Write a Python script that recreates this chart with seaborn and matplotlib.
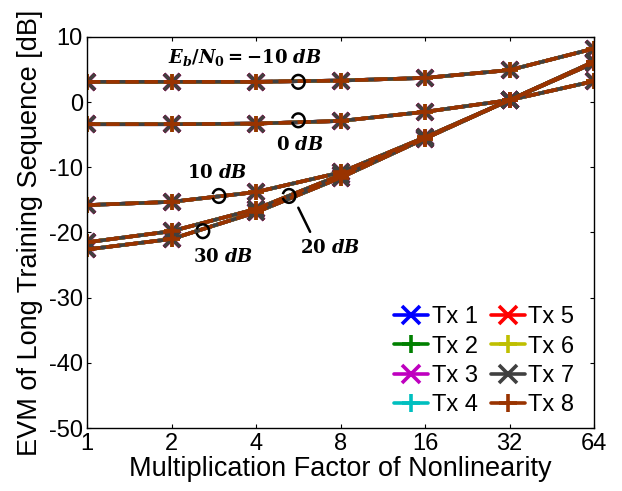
import numpy as np
import pandas as pd
import matplotlib
matplotlib.use("Agg")
import matplotlib.pyplot as plt
from matplotlib.patches import Arc
from matplotlib.lines import Line2D
import seaborn as sns

factors = [1, 2, 4, 8, 16, 32, 64]
snr_labels = ["-10 dB", "0 dB", "10 dB", "20 dB", "30 dB"]
evm_m10 = [3.1, 3.1, 3.1, 3.3, 3.7, 4.9, 8.2]
evm_0 = [-3.4, -3.4, -3.3, -2.9, -1.5, 0.3, 3.2]
evm_10 = [-15.8, -15.3, -13.8, -10.8, -5.4, 0.3, 6.2]
evm_20 = [-21.5, -19.8, -16.4, -11.2, -5.5, 0.3, 6.1]
evm_30 = [-22.6, -21.0, -16.9, -11.6, -5.6, 0.3, 6.0]
tx_names = ["Tx 1", "Tx 2", "Tx 3", "Tx 4", "Tx 5", "Tx 6", "Tx 7", "Tx 8"]
tx_colors = ["#0000ff", "#008000", "#bf00bf", "#00bfbf", "#ff0000", "#bfbf00", "#404040", "#993300"]
tx_markers = ["x", "+", "x", "+", "x", "+", "x", "+"]
y_ticks = [-50, -40, -30, -20, -10, 0, 10]

curves = [evm_m10, evm_0, evm_10, evm_20, evm_30]
rows = []
for s, vals in zip(snr_labels, curves):
    for i, v in enumerate(vals):
        rows.append({"pos": i, "snr": s, "evm": v})
base = pd.DataFrame(rows)

sns.set_style("ticks")
plt.rcParams["font.family"] = ["Liberation Sans", "DejaVu Sans"]
plt.rcParams["mathtext.fontset"] = "custom"
plt.rcParams["mathtext.it"] = "DejaVu Serif:italic:bold"
plt.rcParams["mathtext.rm"] = "DejaVu Serif:bold"
plt.rcParams["mathtext.bf"] = "DejaVu Serif:bold"
for key in ["text.color", "axes.labelcolor", "xtick.color", "ytick.color", "axes.edgecolor"]:
    plt.rcParams[key] = "black"

fig = plt.figure(figsize=(6.22, 4.91), dpi=100)
ax = fig.add_axes([0.140, 0.128, 0.815, 0.797])

for k, (name, col, mk) in enumerate(zip(tx_names, tx_colors, tx_markers)):
    df = base.copy()
    df["tx"] = name
    sns.lineplot(data=df, x="pos", y="evm", units="snr", estimator=None,
                 color=col, marker=mk, markersize=12, markeredgewidth=2.6,
                 markeredgecolor=col, linewidth=2.6,
                 linestyle="--" if k == 7 else "-",
                 ax=ax, legend=False, sort=False)

handles = [Line2D([0], [0], color=c, marker=m, markersize=13, markeredgewidth=2.6,
                  linewidth=2.6) for c, m in zip(tx_colors, tx_markers)]
ax.legend(handles, tx_names, ncol=2, loc="lower right", frameon=False,
          fontsize=17, handlelength=1.45, handletextpad=0.15, columnspacing=0.55,
          labelspacing=0.31, borderaxespad=0.1, bbox_to_anchor=(0.985, 0.0))

ax.set_xlim(0, 6)
ax.set_ylim(-50, 10)
ax.set_xticks(range(len(factors)))
ax.set_xticklabels([str(f) for f in factors])
ax.set_yticks(y_ticks)
ax.set_yticklabels([str(t) for t in y_ticks])
ax.tick_params(direction="in", length=3, width=0.8, top=True, right=True,
               labelsize=17, colors="black")
ax.tick_params(axis="x", pad=3.5)
ax.tick_params(axis="y", pad=3)
for sp in ax.spines.values():
    sp.set_visible(True)
    sp.set_linewidth(1.0)
    sp.set_color("black")
ax.set_xlabel("Multiplication Factor of Nonlinearity", fontsize=19.5, labelpad=1)
ax.set_ylabel("EVM of Long Training Sequence [dB]", fontsize=19.5, labelpad=4)

# annotations
ax.text(1.87, 6.9, r"$E_b/N_0 = -10\ dB$", fontsize=13, ha="center", va="center")
ax.text(2.52, -6.6, r"$0\ dB$", fontsize=13, ha="center", va="center")
ax.text(1.54, -10.9, r"$10\ dB$", fontsize=13, ha="center", va="center")
ax.text(1.61, -23.8, r"$30\ dB$", fontsize=13, ha="center", va="center")
ax.text(2.88, -22.4, r"$20\ dB$", fontsize=13, ha="center", va="center")

arcs = [(2.50, 3.1), (2.50, -2.8), (1.56, -14.4), (1.37, -19.8), (2.39, -14.4)]
for (cx, cy) in arcs:
    ax.add_patch(Arc((cx, cy), 0.15, 2.1, theta1=-105, theta2=105,
                     color="black", linewidth=1.8, zorder=10))
ax.plot([2.50, 2.64], [-16.2, -19.9], color="black", linewidth=1.8, zorder=10)

fig.savefig("out.png", dpi=100)
